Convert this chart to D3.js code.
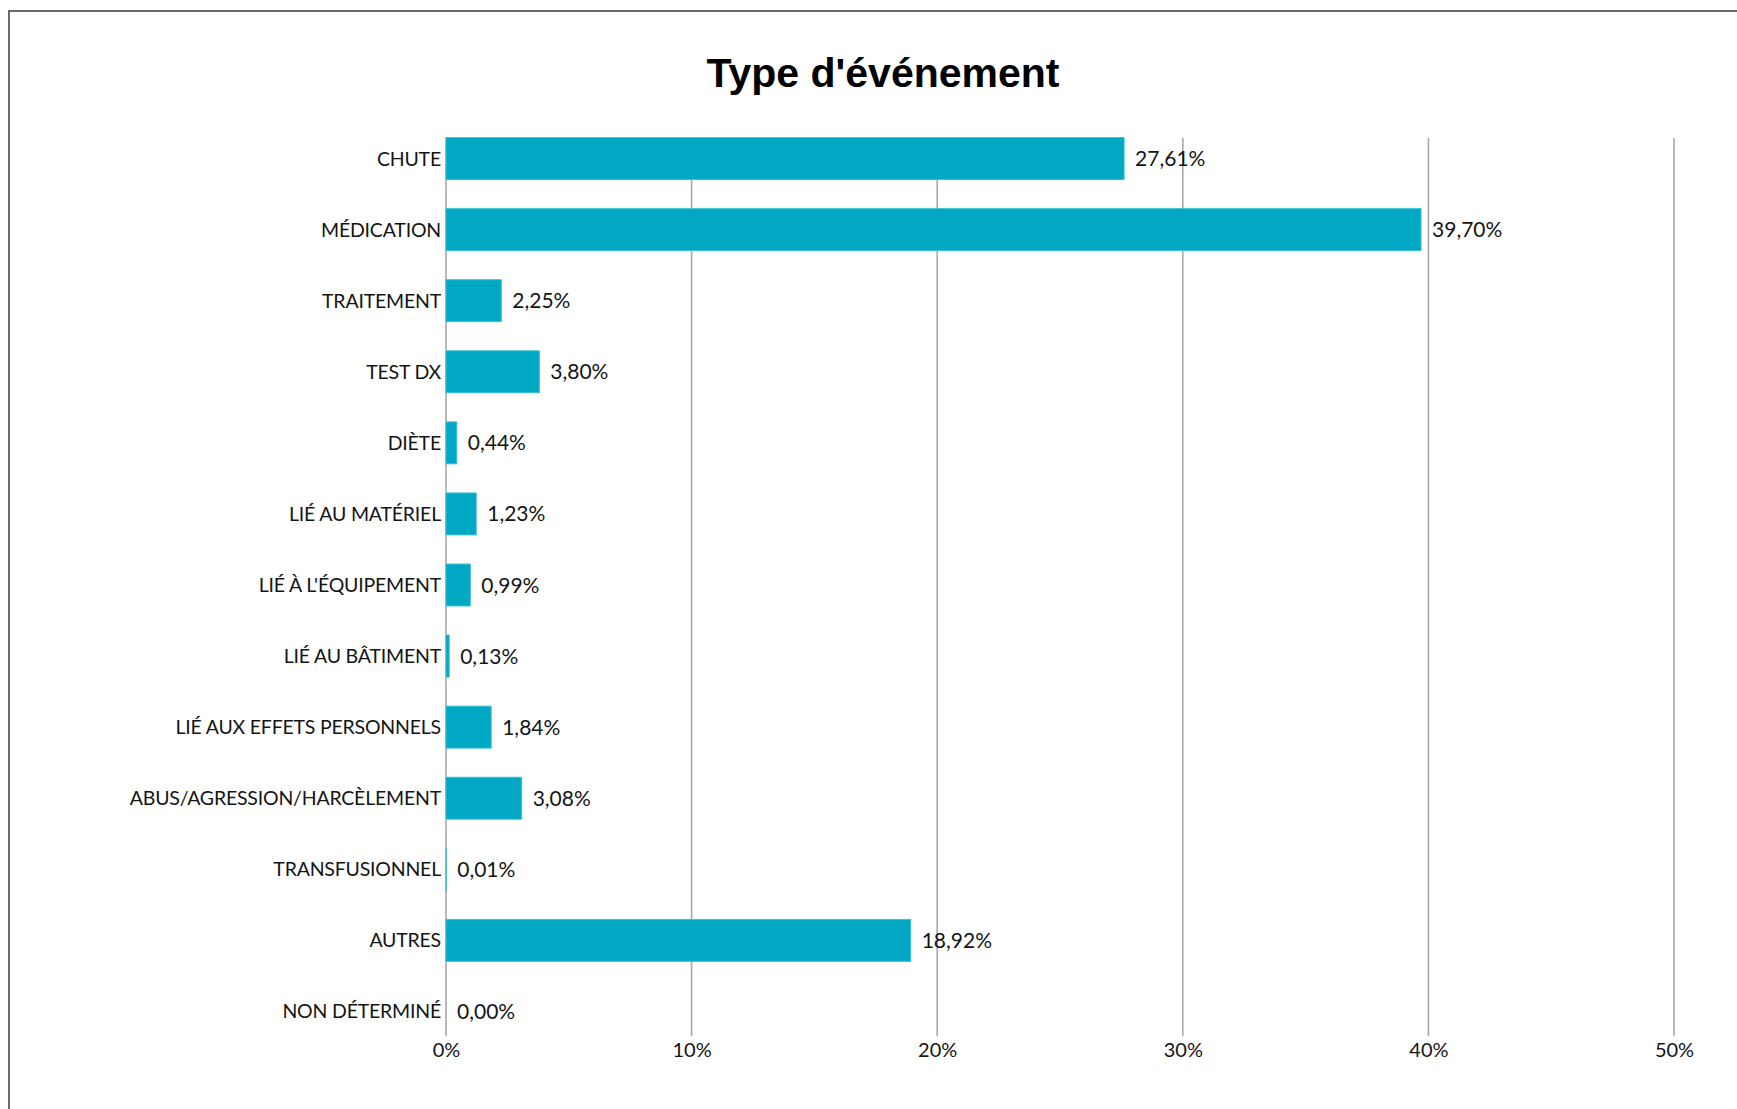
<!DOCTYPE html>
<html lang="fr">
<head>
<meta charset="utf-8">
<title>Type d'événement</title>
<script src="https://cdn.jsdelivr.net/npm/d3@7"></script>
<style>
  html, body { margin: 0; padding: 0; background: #ffffff; }
  svg { display: block; }
  .cat, .val, .tick-label { font-family: Lato, "Open Sans", sans-serif; fill: #141414; }
</style>
</head>
<body>
<svg id="chart" width="1737" height="1109"></svg>
<script>
// Event types and their share of all reported events (%)
const categories = [
  "CHUTE",
  "MÉDICATION",
  "TRAITEMENT",
  "TEST DX",
  "DIÈTE",
  "LIÉ AU MATÉRIEL",
  "LIÉ À L'ÉQUIPEMENT",
  "LIÉ AU BÂTIMENT",
  "LIÉ AUX EFFETS PERSONNELS",
  "ABUS/AGRESSION/HARCÈLEMENT",
  "TRANSFUSIONNEL",
  "AUTRES",
  "NON DÉTERMINÉ"
];
const values = [27.61, 39.70, 2.25, 3.80, 0.44, 1.23, 0.99, 0.13, 1.84, 3.08, 0.01, 18.92, 0.00];
const xTicks = [0, 10, 20, 30, 40, 50];
const title = "Type d'événement";

const svg = d3.select("#chart");
const W = 1737, H = 1109;

// Frame around the chart
svg.append("rect")
  .attr("x", 9).attr("y", 11)
  .attr("width", W + 10).attr("height", H + 10)
  .attr("fill", "#ffffff")
  .attr("stroke", "#3a3a3a")
  .attr("stroke-width", 1.5);

// Title
svg.append("text")
  .attr("x", 883).attr("y", 87)
  .attr("text-anchor", "middle")
  .style("font-family", "'Liberation Sans', Arial, sans-serif")
  .style("font-weight", "bold")
  .style("font-size", "41px")
  .style("fill", "#000")
  .text(title);

// Scales
const x = d3.scaleLinear().domain([0, 50]).range([446, 1674]);
const y = d3.scaleBand().domain(categories).range([123, 1047])
  .paddingInner(0.41).paddingOuter(0.205);

const gridTop = 138, gridBottom = 1036;
const fmt = v => v.toFixed(2).replace(".", ",") + "%";

// Vertical gridlines (including the category axis at 0%)
svg.append("g")
  .selectAll("line")
  .data(xTicks)
  .join("line")
  .attr("x1", d => x(d)).attr("x2", d => x(d))
  .attr("y1", gridTop).attr("y2", gridBottom)
  .attr("stroke", "#a9a9a9")
  .attr("stroke-width", 1.6);

// Bars
svg.append("g")
  .selectAll("rect")
  .data(values)
  .join("rect")
  .attr("x", x(0))
  .attr("y", (d, i) => y(categories[i]))
  .attr("width", d => x(d) - x(0))
  .attr("height", y.bandwidth())
  .attr("fill", "#00a8c3")
  .attr("stroke", d => d > 0 ? "#3dbfd3" : "none")
  .attr("stroke-width", 1);

// Value labels
svg.append("g")
  .selectAll("text")
  .data(values)
  .join("text")
  .attr("class", "val")
  .attr("x", d => x(d) + 11)
  .attr("y", (d, i) => y(categories[i]) + y.bandwidth() / 2)
  .attr("dy", "0.36em")
  .style("font-size", "21px")
  .text(d => fmt(d));

// Category labels
svg.append("g")
  .selectAll("text")
  .data(categories)
  .join("text")
  .attr("class", "cat")
  .attr("x", 441)
  .attr("y", d => y(d) + y.bandwidth() / 2)
  .attr("dy", "0.36em")
  .attr("text-anchor", "end")
  .style("font-size", "19.5px")
  .style("letter-spacing", "-0.2px")
  .text(d => d);

// X axis tick labels
const xAxis = d3.axisBottom(x).tickValues(xTicks).tickFormat(d => d + "%").tickSize(0).tickPadding(0);
const gx = svg.append("g").attr("transform", `translate(0, ${gridBottom})`).call(xAxis);
gx.select(".domain").remove();
gx.selectAll("text")
  .attr("class", "tick-label")
  .attr("y", 14)
  .attr("dy", "0.36em")
  .style("font-size", "20px");
</script>
</body>
</html>
